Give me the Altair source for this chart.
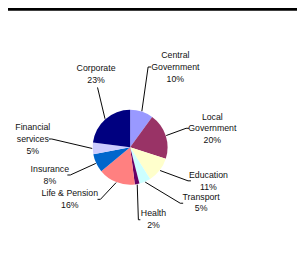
import math
import altair as alt
import pandas as pd

# ---- data ----
categories = ["Central Government", "Local Government", "Education", "Transport",
              "Health", "Life & Pension", "Insurance", "Financial services", "Corporate"]
label_names = ["Central\nGovernment", "Local\nGovernment", "Education", "Transport",
               "Health", "Life & Pension", "Insurance", "Financial\nservices", "Corporate"]
values = [10, 20, 11, 5, 2, 16, 8, 5, 23]
colors = ["#9999FF", "#993366", "#FFFFCC", "#CCFFFF", "#660066",
          "#FF8080", "#0066CC", "#CCCCFF", "#000080"]
title_text = "Revenue by Market"

# ---- layout (svg pixel coordinates) ----
W, H = 297, 262
CX, CY, R = 125.5, 139.5, 38.5
LH = 12
label_xy = [(172, 57), (210, 120), (206, 174), (198.5, 196.5), (149.5, 213.5),
            (63.5, 193), (43, 168), (25.5, 131), (90.5, 64.5)]
tick_end = [(147, 57), (186, 120), (188, 174), (180, 197), (136, 214),
            (92, 193), (61, 168), (42, 131), (92, 78)]
elbow = [(144, 57), (183, 120), (185, 174), (177, 197), (134, 214),
         (95, 193), (64, 168), (45, 131), (92, 78)]

total = sum(values)
pie = pd.DataFrame({"cat": categories, "value": values, "idx": list(range(len(values)))})

lab_rows, line_rows = [], []
cum = 0
for i, (c, v) in enumerate(zip(categories, values)):
    mid = (cum + v / 2) / total * 2 * math.pi
    cum += v
    ax = CX + (R + 0.5) * math.sin(mid)
    ay = CY - (R + 0.5) * math.cos(mid)
    text = f"{label_names[i]}\n{round(v / total * 100)}%"
    n = text.count("\n") + 1
    lab_rows.append({"cat": c, "text": text,
                     "px": label_xy[i][0], "py": label_xy[i][1] - (n - 1) * LH / 2})
    for k, (px, py) in enumerate([tick_end[i], elbow[i], (ax, ay)]):
        line_rows.append({"cat": c, "k": k, "px": px, "py": py})
labels = pd.DataFrame(lab_rows)
lines = pd.DataFrame(line_rows)

xs = alt.Scale(domain=[0, W], range=[0, W])
ys = alt.Scale(domain=[0, H], range=[0, H])
FONT = "Liberation Sans"

arcs = alt.Chart(pie).mark_arc(radius=R).encode(
    theta=alt.Theta("value:Q", stack=True),
    order=alt.Order("idx:Q"),
    color=alt.Color("cat:N", scale=alt.Scale(domain=categories, range=colors), legend=None),
    x=alt.value(CX), y=alt.value(CY),
)

leaders = alt.Chart(lines).mark_line(color="black", strokeWidth=1).encode(
    x=alt.X("px:Q", scale=xs, axis=None),
    y=alt.Y("py:Q", scale=ys, axis=None),
    detail="cat:N",
    order="k:Q",
)

texts = alt.Chart(labels).mark_text(
    font=FONT, fontSize=9, color="#111111", lineBreak="\n", lineHeight=LH,
    align="center", baseline="middle",
).encode(
    x=alt.X("px:Q", scale=xs, axis=None),
    y=alt.Y("py:Q", scale=ys, axis=None),
    text="text:N",
)

title = alt.Chart(pd.DataFrame({"t": [title_text]})).mark_text(
    font=FONT, fontSize=14.5, fontWeight="bold", color="black",
    align="center", baseline="alphabetic",
).encode(text="t:N", x=alt.value(136), y=alt.value(-4.7))

bar = alt.Chart(pd.DataFrame({"a": [0]})).mark_rect(color="black").encode(
    x=alt.value(-8), x2=alt.value(W), y=alt.value(-4), y2=alt.value(-0.7),
)

chart = alt.layer(arcs, leaders, texts, title, bar).properties(
    width=W, height=H, padding=0,
    autosize=alt.AutoSizeParams(type="none"),
).configure_view(stroke=None)

chart.save("out.html", embed_options={"renderer": "svg", "actions": False})
